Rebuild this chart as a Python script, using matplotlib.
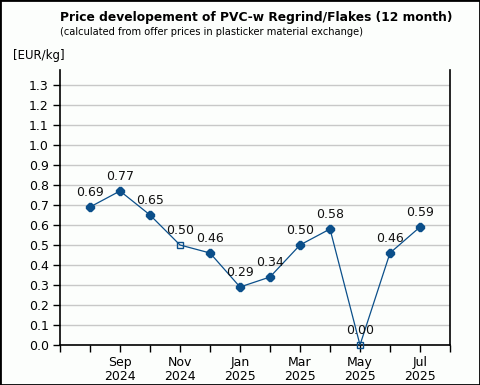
import matplotlib
matplotlib.use("Agg")
import matplotlib.pyplot as plt
from matplotlib.patches import Rectangle

months = ["Aug 2024", "Sep 2024", "Oct 2024", "Nov 2024", "Dec 2024", "Jan 2025",
          "Feb 2025", "Mar 2025", "Apr 2025", "May 2025", "Jun 2025", "Jul 2025"]
prices = [0.69, 0.77, 0.65, 0.50, 0.46, 0.29, 0.34, 0.50, 0.58, 0.00, 0.46, 0.59]
hollow = [False, False, False, True, False, False, False, False, False, True, False, False]
tick_labels = {1: "Sep\n2024", 3: "Nov\n2024", 5: "Jan\n2025", 7: "Mar\n2025",
               9: "May\n2025", 11: "Jul\n2025"}
yticks = [round(0.1 * i, 1) for i in range(14)]

color = "#0b4f8a"
bg = "#fcfefc"

fig = plt.figure(figsize=(4.8, 3.85), dpi=100, facecolor=bg)
W, H = 480, 385
ax = fig.add_axes([60 / W, 1 - 345 / H, 390 / W, 275 / H], facecolor=bg)

x = list(range(len(prices)))
ax.plot(x, prices, color=color, lw=0.9, zorder=3)
for xi, p, h in zip(x, prices, hollow):
    if h:
        ax.plot(xi, p, marker="s", ms=4.5, mfc="none", mec=color, mew=1.0, zorder=4, clip_on=False)
    else:
        ax.plot(xi, p, marker="8", ms=5.5, mfc=color, mec=color, zorder=4, clip_on=False)
    ax.annotate(f"{p:.2f}", (xi, p), xytext=(0, 5.5), textcoords="offset points",
                ha="center", va="bottom", fontsize=9, color="#111111", zorder=5)

ax.set_xlim(-1, 12)
ax.set_ylim(0, 1.375)
ax.set_yticks(yticks)
ax.set_yticklabels([f"{v:.1f}" for v in yticks], fontsize=9)
ax.set_xticks(list(range(-1, 13)))
ax.set_xticklabels([tick_labels.get(i, "") for i in range(-1, 13)], fontsize=9, linespacing=1.1)
ax.tick_params(axis="both", direction="out", length=5, width=1, color="black", pad=3)
ax.yaxis.grid(True, color="#c8c8c8", lw=1)
ax.set_axisbelow(True)
for s in ["left", "bottom", "right"]:
    ax.spines[s].set_color("black")
    ax.spines[s].set_linewidth(1.2)
ax.spines["top"].set_visible(False)

title = fig.text(60 / W, 1 - 17 / H, "Price developement of PVC-w Regrind/Flakes (12 month)",
                 fontsize=10, fontweight="bold", ha="left", va="center")
sub = fig.text(60 / W, 1 - 32 / H, "(calculated from offer prices in plasticker material exchange)",
               fontsize=7.5, ha="left", va="center")
fig.text(13 / W, 1 - 55 / H, "[EUR/kg]", fontsize=8.5, ha="left", va="center")

renderer = fig.canvas.get_renderer()
for t, target in [(title, 393), (sub, 303)]:
    w = t.get_window_extent(renderer).width
    t.set_fontsize(t.get_fontsize() * target / w)

fig.patches.append(Rectangle((0, 0), 1, 1, transform=fig.transFigure, fill=False,
                             edgecolor="black", lw=2, zorder=10))

fig.savefig("out.png", dpi=100, facecolor=bg)
